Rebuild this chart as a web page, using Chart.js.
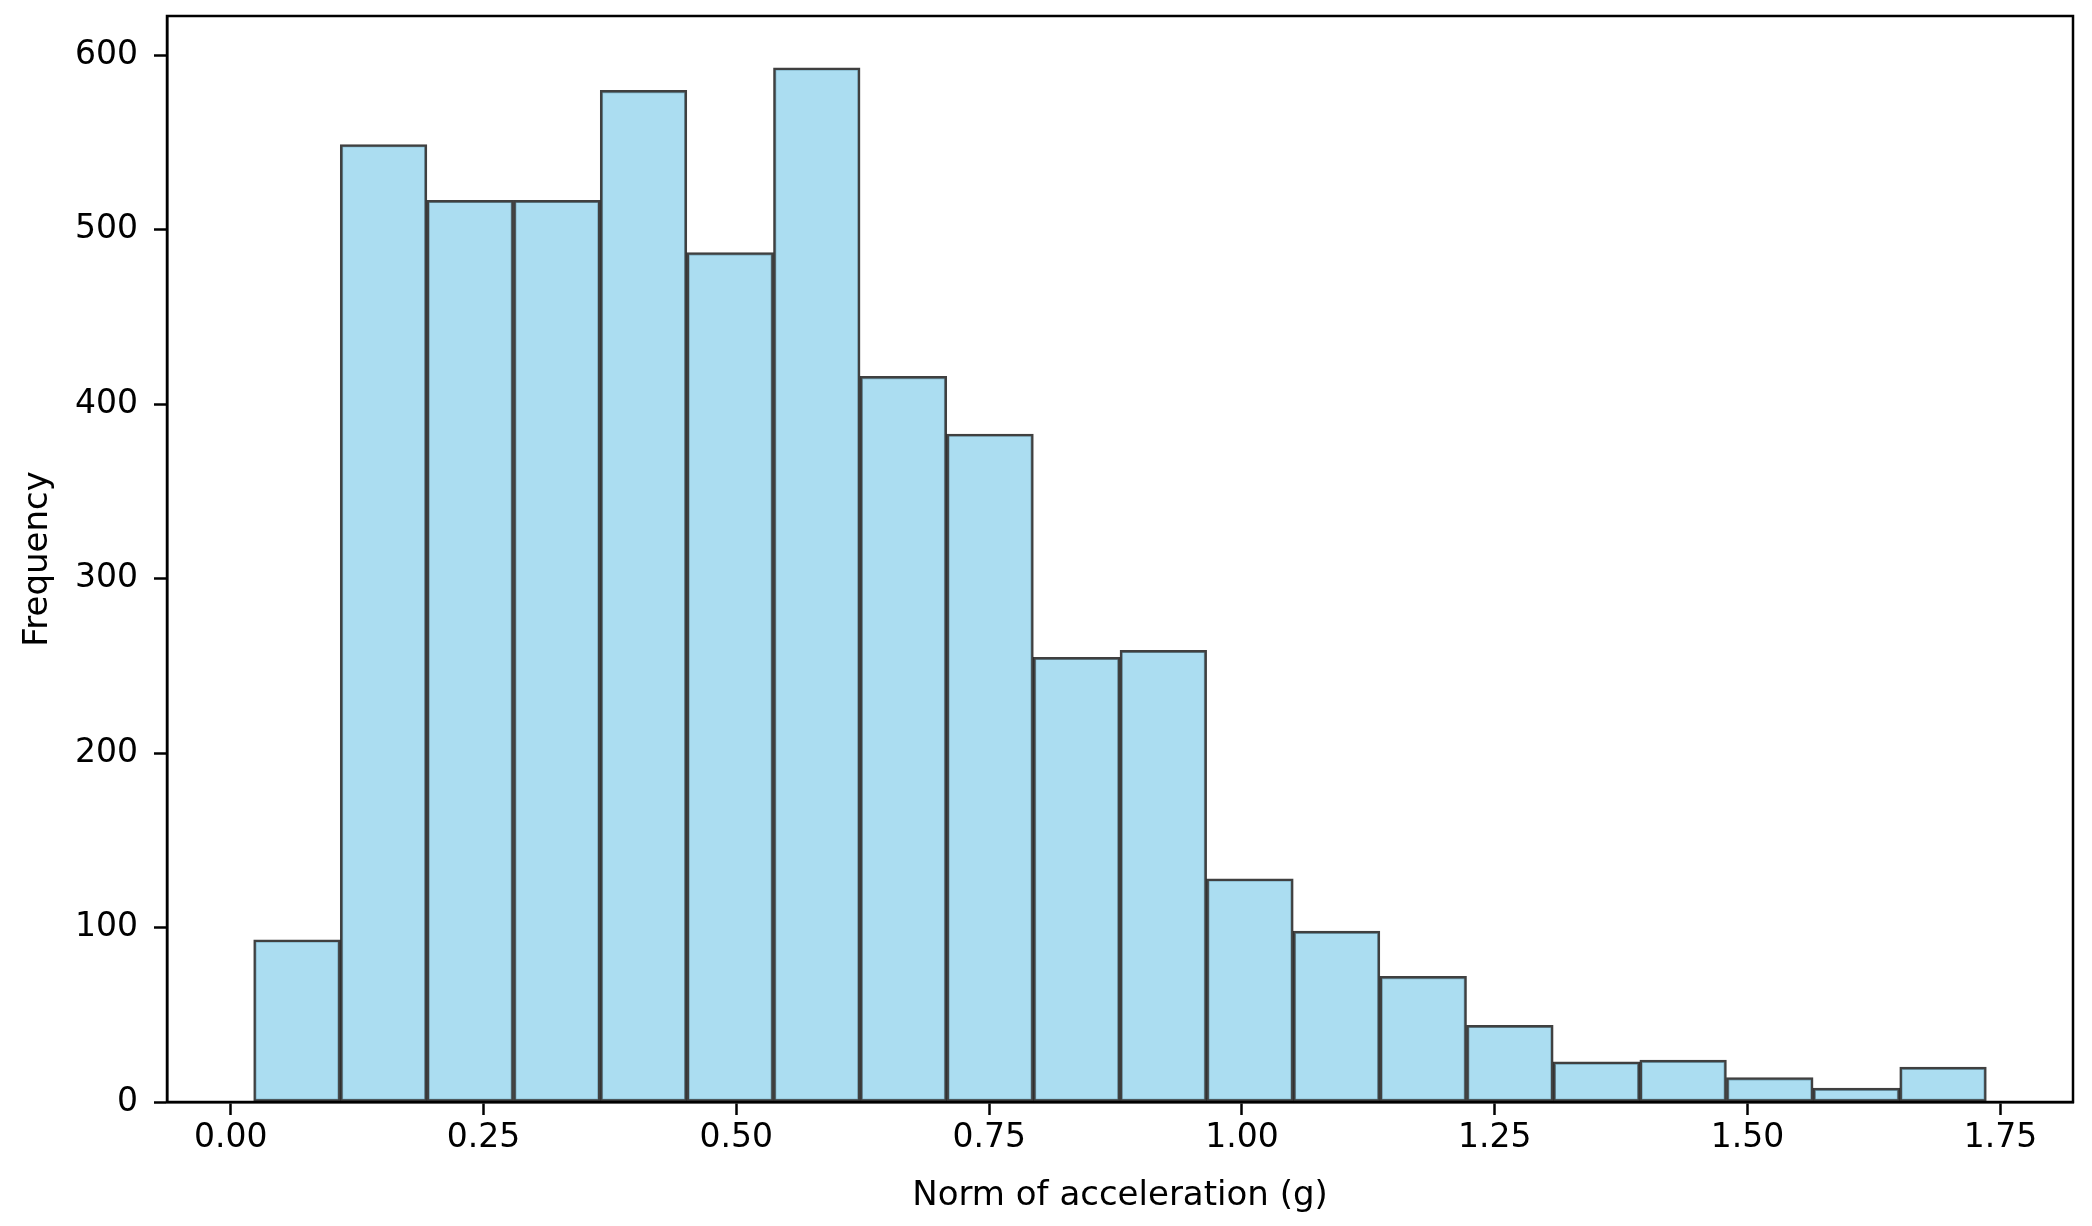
<!DOCTYPE html>
<html>
<head>
<meta charset="utf-8">
<script src="https://cdn.jsdelivr.net/npm/chart.js@4.4.1/dist/chart.umd.min.js"></script>
<style>
  html, body { margin: 0; padding: 0; background: #fff; }
  #wrap { width: 2092px; height: 1226px; }
</style>
</head>
<body>
<div id="wrap"><canvas id="histChart" width="2092" height="1226"></canvas></div>
<script>
// DATA
const binEdges = [0.0227, 0.1084, 0.1940, 0.2797, 0.3654, 0.4511, 0.5367, 0.6224, 0.7081,
                  0.7937, 0.8794, 0.9651, 1.0507, 1.1364, 1.2221, 1.3078, 1.3934, 1.4791,
                  1.5648, 1.6504, 1.7361];
const counts = [93, 549, 517, 517, 580, 487, 593, 416, 383, 255, 259, 128, 98, 72, 44, 23, 24, 14, 8, 20];
const xTicks = [0.00, 0.25, 0.50, 0.75, 1.00, 1.25, 1.50, 1.75];
const yTicks = [0, 100, 200, 300, 400, 500, 600];
const xTitle = 'Norm of acceleration (g)';
const yTitle = 'Frequency';

// build bar points from bin edges (center of each bin)
const histPoints = counts.map((c, i) => ({ x: (binEdges[i] + binEdges[i + 1]) / 2, y: c }));

// matplotlib-like 5% margins on x, 5% headroom on y
const xSpan = binEdges[binEdges.length - 1] - binEdges[0];
const xMin = binEdges[0] - 0.05 * xSpan;
const xMax = binEdges[binEdges.length - 1] + 0.05 * xSpan;
const yMax = Math.max(...counts) * 1.05;

const FONT = "'DejaVu Sans', 'Liberation Sans', sans-serif";

// frame around the plot area (top/right spines)
const framePlugin = {
    id: 'frame',
    afterDraw(chart) {
        const { ctx, chartArea } = chart;
        ctx.save();
        ctx.strokeStyle = '#000';
        ctx.lineWidth = 2.5;
        ctx.strokeRect(chartArea.left, chartArea.top, chartArea.right - chartArea.left, chartArea.bottom - chartArea.top);
        ctx.restore();
    }
};

const ctx = document.getElementById('histChart').getContext('2d');
new Chart(ctx, {
    type: 'bar',
    data: {
        datasets: [{
            label: yTitle,
            data: histPoints,
            backgroundColor: 'rgba(135, 206, 235, 0.7)',
            borderColor: 'rgba(0, 0, 0, 0.75)',
            borderWidth: 2.5,
            borderSkipped: false,
            categoryPercentage: 1.0,
            barPercentage: 1.0
        }]
    },
    options: {
        responsive: false,
        animation: false,
        devicePixelRatio: 1,
        layout: { padding: { top: 16, right: 19, left: 0, bottom: 9 } },
        plugins: {
            legend: { display: false },
            tooltip: { enabled: false }
        },
        scales: {
            x: {
                type: 'linear',
                offset: false,
                min: xMin,
                max: xMax,
                afterBuildTicks: (scale) => { scale.ticks = xTicks.map(v => ({ value: v })); },
                afterFit: (scale) => {
                    scale.height = 115;
                    scale.paddingLeft = 0;
                    scale.paddingRight = 0;
                },
                grid: {
                    offset: false,
                    drawOnChartArea: false,
                    drawTicks: true,
                    tickLength: 13,
                    tickWidth: 2.5,
                    tickColor: '#000'
                },
                border: { display: true, color: '#000', width: 2.5 },
                ticks: {
                    color: '#000',
                    padding: 4,
                    maxRotation: 0,
                    autoSkip: false,
                    font: { family: FONT, size: 33 },
                    callback: (v) => Number(v).toFixed(2)
                },
                title: {
                    display: true,
                    text: xTitle,
                    color: '#000',
                    padding: { top: 0, bottom: 0 },
                    font: { family: FONT, size: 34 }
                }
            },
            y: {
                type: 'linear',
                min: 0,
                max: yMax,
                afterBuildTicks: (scale) => { scale.ticks = yTicks.map(v => ({ value: v })); },
                afterFit: (scale) => {
                    scale.width = 167;
                    scale.paddingTop = 0;
                    scale.paddingBottom = 0;
                },
                grid: {
                    drawOnChartArea: false,
                    drawTicks: true,
                    tickLength: 13,
                    tickWidth: 2.5,
                    tickColor: '#000'
                },
                border: { display: true, color: '#000', width: 2.5 },
                ticks: {
                    color: '#000',
                    padding: 16,
                    autoSkip: false,
                    font: { family: FONT, size: 33 }
                },
                title: {
                    display: true,
                    text: yTitle,
                    color: '#000',
                    padding: { top: 18, bottom: 0 },
                    font: { family: FONT, size: 34 }
                }
            }
        }
    },
    plugins: [framePlugin]
});
</script>
</body>
</html>
